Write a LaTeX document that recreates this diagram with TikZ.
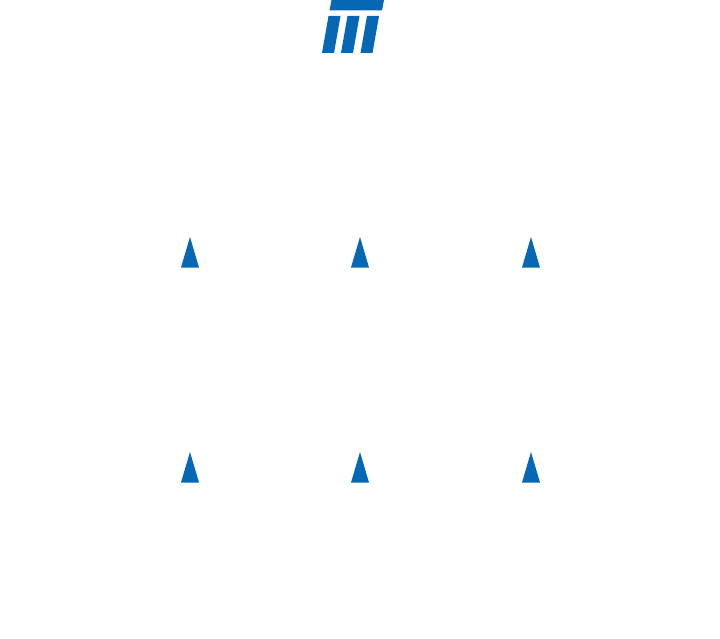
\documentclass[tikz,border=0pt]{standalone}
\definecolor{logoblue}{RGB}{6,103,181}
\tikzset{
  marker/.style={fill=logoblue, draw=none},
  bar/.style={fill=logoblue, draw=none}
}
\begin{document}
\begin{tikzpicture}[x=1pt,y=-1pt]
\useasboundingbox (0,0) rectangle (720,639);
% logo
\fill[bar] (331.5,0) -- (384,0) -- (382,10.5) -- (329.5,10.5) -- cycle;
\fill[bar] (328.5,16) -- (340.5,16) -- (334,53) -- (322,53) -- cycle;
\fill[bar] (347.5,16) -- (359.5,16) -- (353,53) -- (341,53) -- cycle;
\fill[bar] (367,16) -- (379,16) -- (372.5,53) -- (360.5,53) -- cycle;
% markers
\foreach \cx in {190,360,531}{
  \foreach \ty in {237,452}{
    \fill[marker] (\cx,\ty) -- (\cx+9,\ty+30.5) -- (\cx-9,\ty+30.5) -- cycle;
  }
}
\end{tikzpicture}
\end{document}
